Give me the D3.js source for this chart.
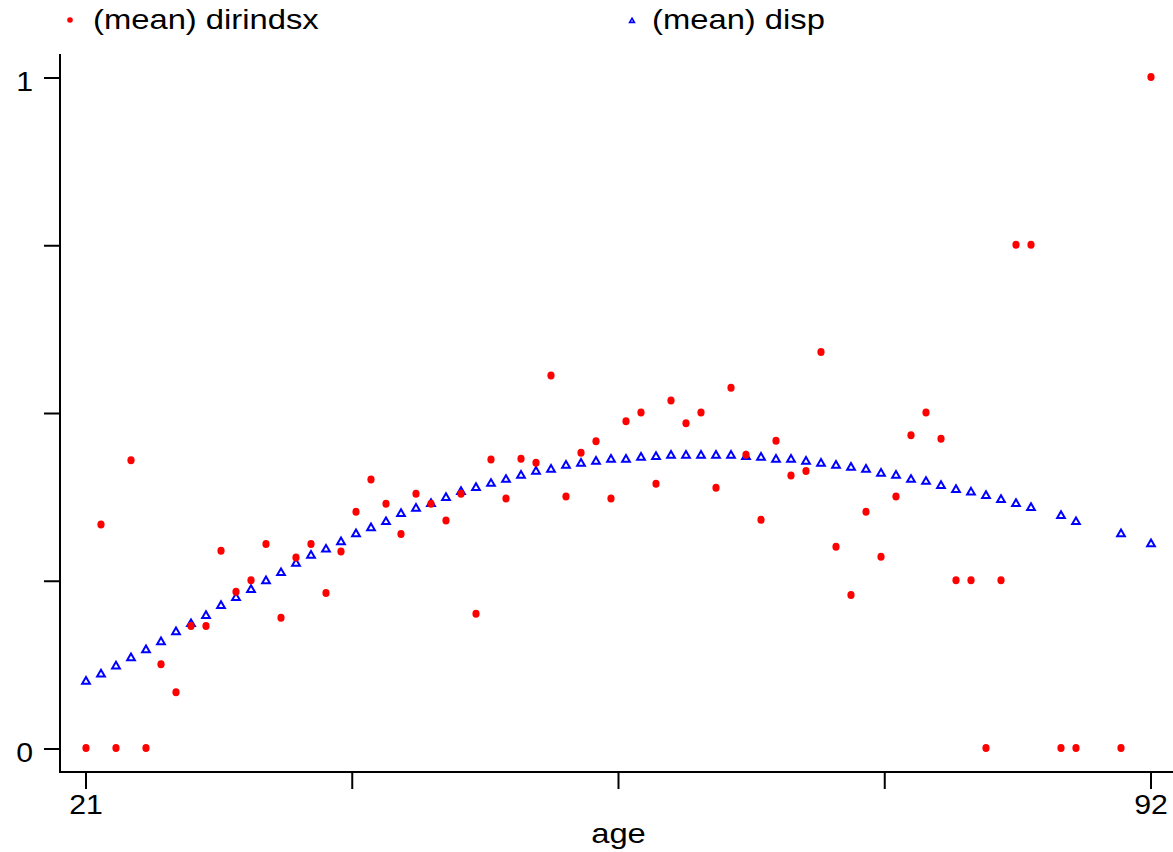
<!DOCTYPE html>
<html>
<head>
<meta charset="utf-8">
<script src="https://cdn.jsdelivr.net/npm/d3@7"></script>
<style>
    html, body { margin: 0; padding: 0; background: #fff; }
    text { font-family: "Liberation Sans", Arial, sans-serif; fill: #000; }
</style>
</head>
<body>
<div id="chart"></div>
<script>
// age groups (no observations at 85, 88, 89, 91)
const ages = [
    21, 22, 23, 24, 25, 26, 27, 28, 29, 30,
    31, 32, 33, 34, 35, 36, 37, 38, 39, 40,
    41, 42, 43, 44, 45, 46, 47, 48, 49, 50,
    51, 52, 53, 54, 55, 56, 57, 58, 59, 60,
    61, 62, 63, 64, 65, 66, 67, 68, 69, 70,
    71, 72, 73, 74, 75, 76, 77, 78, 79, 80,
    81, 82, 83, 84, 86, 87, 90, 92
];

// (mean) dirindsx
const dirindsx = [
    0, 0.333, 0, 0.429, 0, 0.125, 0.083, 0.182, 0.182, 0.294,
    0.233, 0.25, 0.304, 0.194, 0.284, 0.304, 0.231, 0.293, 0.352, 0.4,
    0.364, 0.319, 0.379, 0.364, 0.339, 0.379, 0.2, 0.43, 0.372, 0.431,
    0.425, 0.555, 0.375, 0.44, 0.457, 0.372, 0.487, 0.5, 0.394, 0.518,
    0.484, 0.5, 0.388, 0.537, 0.437, 0.34, 0.458, 0.406, 0.413, 0.59,
    0.3, 0.228, 0.352, 0.285, 0.375, 0.466, 0.5, 0.461, 0.25, 0.25,
    0, 0.25, 0.75, 0.75, 0, 0, 0, 1
];

// (mean) disp
const disp = [
    0.099, 0.110, 0.122, 0.134, 0.146, 0.158, 0.173, 0.185, 0.197, 0.212,
    0.224, 0.236, 0.249, 0.261, 0.275, 0.287, 0.296, 0.307, 0.319, 0.328,
    0.337, 0.349, 0.357, 0.364, 0.373, 0.382, 0.388, 0.394, 0.400, 0.406,
    0.412, 0.415, 0.421, 0.424, 0.427, 0.430, 0.430, 0.433, 0.434, 0.436,
    0.436, 0.436, 0.436, 0.436, 0.434, 0.433, 0.430, 0.430, 0.427, 0.424,
    0.421, 0.418, 0.415, 0.409, 0.406, 0.400, 0.397, 0.391, 0.385, 0.381,
    0.376, 0.370, 0.364, 0.358, 0.346, 0.337, 0.319, 0.304
];

const xTicks = [21, 38.75, 56.5, 74.25, 92];
const xTickLabels = ['21', '', '', '', '92'];
const yTicks = [0, 0.25, 0.5, 0.75, 1];
const yTickLabels = ['0', '', '', '', '1'];

const legendLabels = ['(mean) dirindsx', '(mean) disp'];

const width = 1173;
const height = 852;
const axisX = 60;       // left axis line
const axisY = 772;      // bottom axis line
const RED = '#ff0000';
const BLUE = '#0000ff';

const svg = d3.select('#chart')
    .append('svg')
    .attr('width', width)
    .attr('height', height);

const x = d3.scaleLinear().domain([21, 92]).range([86, 1151]);
const y = d3.scaleLinear().domain([0, 1]).range([748, 77]);

// stretched text, the source font is a bit wider than Arial
function label(parent, px, py, str, opts) {
    const o = Object.assign({ size: 28, sx: 1.17, anchor: 'start' }, opts);
    return parent.append('text')
        .attr('transform', `translate(${px},${py}) scale(${o.sx},1)`)
        .attr('text-anchor', o.anchor)
        .style('font-size', o.size + 'px')
        .text(str);
}

// axes lines
svg.append('line')
    .attr('x1', axisX).attr('x2', axisX)
    .attr('y1', 54).attr('y2', axisY + 1)
    .attr('stroke', '#000').attr('stroke-width', 2);

svg.append('line')
    .attr('x1', axisX).attr('x2', width)
    .attr('y1', axisY).attr('y2', axisY)
    .attr('stroke', '#000').attr('stroke-width', 2);

// y ticks
const yAxis = svg.append('g');
yTicks.forEach((t, i) => {
    yAxis.append('line')
        .attr('x1', 44).attr('x2', axisX)
        .attr('y1', y(t) + 1).attr('y2', y(t) + 1)
        .attr('stroke', '#000').attr('stroke-width', 2);
    if (yTickLabels[i]) {
        label(yAxis, 33, y(t) + 14, yTickLabels[i], { anchor: 'end', sx: 1.08 });
    }
});

// x ticks
const xAxis = svg.append('g');
xTicks.forEach((t, i) => {
    xAxis.append('line')
        .attr('x1', x(t)).attr('x2', x(t))
        .attr('y1', axisY).attr('y2', 789)
        .attr('stroke', '#000').attr('stroke-width', 2);
    if (xTickLabels[i]) {
        label(xAxis, x(t), 814, xTickLabels[i], { anchor: 'middle', sx: 1.08 });
    }
});

label(svg, (x(21) + x(92)) / 2, 843, 'age', { anchor: 'middle' });

// points
const points = ages.map((a, i) => ({ age: a, dir: dirindsx[i], disp: disp[i] }));

const tri = d3.symbol().type(d3.symbolTriangle).size(26);

svg.append('g')
    .selectAll('path')
    .data(points)
    .join('path')
    .attr('d', tri)
    .attr('transform', d => `translate(${x(d.age)},${y(d.disp)})`)
    .attr('fill', 'none')
    .attr('stroke', BLUE)
    .attr('stroke-width', 2);

svg.append('g')
    .selectAll('ellipse')
    .data(points)
    .join('ellipse')
    .attr('cx', d => x(d.age))
    .attr('cy', d => y(d.dir))
    .attr('rx', 3.6)
    .attr('ry', 4)
    .attr('fill', RED);

// legend
const legend = svg.append('g');
legend.append('circle')
    .attr('cx', 70).attr('cy', 20).attr('r', 2.8)
    .attr('fill', RED);
label(legend, 93, 29, legendLabels[0]);

legend.append('path')
    .attr('d', d3.symbol().type(d3.symbolTriangle).size(10))
    .attr('transform', 'translate(632,21)')
    .attr('fill', 'none')
    .attr('stroke', BLUE)
    .attr('stroke-width', 1.6);
label(legend, 652, 29, legendLabels[1]);
</script>
</body>
</html>
